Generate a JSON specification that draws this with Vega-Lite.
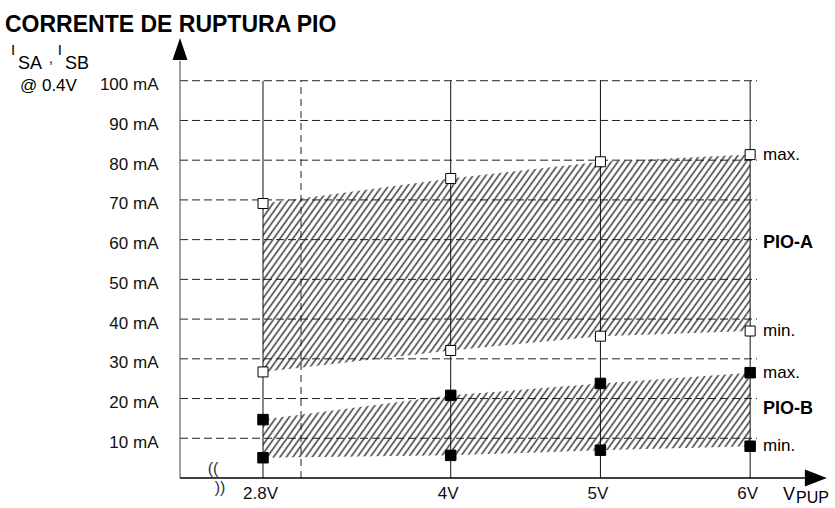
{
"$schema":"https://vega.github.io/schema/vega-lite/v6.json",
"width":645,"height":437,"autosize":"none",
"padding":{"left":180,"top":41,"right":10,"bottom":30},
"background":"white",
"config":{"view":{"stroke":null},"font":"Liberation Sans","text":{"font":"Liberation Sans","color":"#000"},
"axis":{"domain":false,"ticks":false,"grid":false,"labelFont":"Liberation Sans","labelColor":"#111","labelFontSize":17}},
"data":{"values":[{}]},
"datasets":{
"pio":[
{"V":2.8,"Amax":69.1,"Amin":26.7,"Bmax":14.7,"Bmin":5.1},
{"V":4,"Amax":75.4,"Amin":32.1,"Bmax":20.8,"Bmin":5.7},
{"V":5,"Amax":79.6,"Amin":35.7,"Bmax":23.8,"Bmin":7.0},
{"V":6,"Amax":81.4,"Amin":37.0,"Bmax":26.5,"Bmin":8.0}],
"grid":[{"mA":10},{"mA":20},{"mA":30},{"mA":40},{"mA":50},{"mA":60},{"mA":70},{"mA":80},{"mA":90},{"mA":100}],
"solidV":[{"V":2.8},{"V":4},{"V":5},{"V":6}],
"dashedV":[{"V":3}]
},
"layer":[
{"data":{"name":"pio"},
"mark":{"type":"area","fill":{"gradient":"linear","x1":0,"y1":0,"x2":1.1972,"y2":0.3821,"stops":[
{"offset":0.000,"color":"#444"},{"offset":0.003,"color":"#fff"},{"offset":0.007,"color":"#fff"},
{"offset":0.010,"color":"#444"},{"offset":0.013,"color":"#fff"},{"offset":0.017,"color":"#fff"},
{"offset":0.020,"color":"#444"},{"offset":0.023,"color":"#fff"},{"offset":0.027,"color":"#fff"},
{"offset":0.030,"color":"#444"},{"offset":0.033,"color":"#fff"},{"offset":0.037,"color":"#fff"},
{"offset":0.040,"color":"#444"},{"offset":0.043,"color":"#fff"},{"offset":0.047,"color":"#fff"},
{"offset":0.050,"color":"#444"},{"offset":0.053,"color":"#fff"},{"offset":0.057,"color":"#fff"},
{"offset":0.060,"color":"#444"},{"offset":0.063,"color":"#fff"},{"offset":0.067,"color":"#fff"},
{"offset":0.070,"color":"#444"},{"offset":0.073,"color":"#fff"},{"offset":0.077,"color":"#fff"},
{"offset":0.080,"color":"#444"},{"offset":0.083,"color":"#fff"},{"offset":0.087,"color":"#fff"},
{"offset":0.090,"color":"#444"},{"offset":0.093,"color":"#fff"},{"offset":0.097,"color":"#fff"},
{"offset":0.100,"color":"#444"},{"offset":0.103,"color":"#fff"},{"offset":0.107,"color":"#fff"},
{"offset":0.110,"color":"#444"},{"offset":0.113,"color":"#fff"},{"offset":0.117,"color":"#fff"},
{"offset":0.120,"color":"#444"},{"offset":0.123,"color":"#fff"},{"offset":0.127,"color":"#fff"},
{"offset":0.130,"color":"#444"},{"offset":0.133,"color":"#fff"},{"offset":0.137,"color":"#fff"},
{"offset":0.140,"color":"#444"},{"offset":0.143,"color":"#fff"},{"offset":0.147,"color":"#fff"},
{"offset":0.150,"color":"#444"},{"offset":0.153,"color":"#fff"},{"offset":0.157,"color":"#fff"},
{"offset":0.160,"color":"#444"},{"offset":0.163,"color":"#fff"},{"offset":0.167,"color":"#fff"},
{"offset":0.170,"color":"#444"},{"offset":0.173,"color":"#fff"},{"offset":0.177,"color":"#fff"},
{"offset":0.180,"color":"#444"},{"offset":0.183,"color":"#fff"},{"offset":0.187,"color":"#fff"},
{"offset":0.190,"color":"#444"},{"offset":0.193,"color":"#fff"},{"offset":0.197,"color":"#fff"},
{"offset":0.200,"color":"#444"},{"offset":0.203,"color":"#fff"},{"offset":0.207,"color":"#fff"},
{"offset":0.210,"color":"#444"},{"offset":0.213,"color":"#fff"},{"offset":0.217,"color":"#fff"},
{"offset":0.220,"color":"#444"},{"offset":0.223,"color":"#fff"},{"offset":0.227,"color":"#fff"},
{"offset":0.230,"color":"#444"},{"offset":0.233,"color":"#fff"},{"offset":0.237,"color":"#fff"},
{"offset":0.240,"color":"#444"},{"offset":0.243,"color":"#fff"},{"offset":0.247,"color":"#fff"},
{"offset":0.250,"color":"#444"},{"offset":0.253,"color":"#fff"},{"offset":0.257,"color":"#fff"},
{"offset":0.260,"color":"#444"},{"offset":0.263,"color":"#fff"},{"offset":0.267,"color":"#fff"},
{"offset":0.270,"color":"#444"},{"offset":0.273,"color":"#fff"},{"offset":0.277,"color":"#fff"},
{"offset":0.280,"color":"#444"},{"offset":0.283,"color":"#fff"},{"offset":0.287,"color":"#fff"},
{"offset":0.290,"color":"#444"},{"offset":0.293,"color":"#fff"},{"offset":0.297,"color":"#fff"},
{"offset":0.300,"color":"#444"},{"offset":0.303,"color":"#fff"},{"offset":0.307,"color":"#fff"},
{"offset":0.310,"color":"#444"},{"offset":0.313,"color":"#fff"},{"offset":0.317,"color":"#fff"},
{"offset":0.320,"color":"#444"},{"offset":0.323,"color":"#fff"},{"offset":0.327,"color":"#fff"},
{"offset":0.330,"color":"#444"},{"offset":0.333,"color":"#fff"},{"offset":0.337,"color":"#fff"},
{"offset":0.340,"color":"#444"},{"offset":0.343,"color":"#fff"},{"offset":0.347,"color":"#fff"},
{"offset":0.350,"color":"#444"},{"offset":0.353,"color":"#fff"},{"offset":0.357,"color":"#fff"},
{"offset":0.360,"color":"#444"},{"offset":0.363,"color":"#fff"},{"offset":0.367,"color":"#fff"},
{"offset":0.370,"color":"#444"},{"offset":0.373,"color":"#fff"},{"offset":0.377,"color":"#fff"},
{"offset":0.380,"color":"#444"},{"offset":0.383,"color":"#fff"},{"offset":0.387,"color":"#fff"},
{"offset":0.390,"color":"#444"},{"offset":0.393,"color":"#fff"},{"offset":0.397,"color":"#fff"},
{"offset":0.400,"color":"#444"},{"offset":0.403,"color":"#fff"},{"offset":0.407,"color":"#fff"},
{"offset":0.410,"color":"#444"},{"offset":0.413,"color":"#fff"},{"offset":0.417,"color":"#fff"},
{"offset":0.420,"color":"#444"},{"offset":0.423,"color":"#fff"},{"offset":0.427,"color":"#fff"},
{"offset":0.430,"color":"#444"},{"offset":0.433,"color":"#fff"},{"offset":0.437,"color":"#fff"},
{"offset":0.440,"color":"#444"},{"offset":0.443,"color":"#fff"},{"offset":0.447,"color":"#fff"},
{"offset":0.450,"color":"#444"},{"offset":0.453,"color":"#fff"},{"offset":0.457,"color":"#fff"},
{"offset":0.460,"color":"#444"},{"offset":0.463,"color":"#fff"},{"offset":0.467,"color":"#fff"},
{"offset":0.470,"color":"#444"},{"offset":0.473,"color":"#fff"},{"offset":0.477,"color":"#fff"},
{"offset":0.480,"color":"#444"},{"offset":0.483,"color":"#fff"},{"offset":0.487,"color":"#fff"},
{"offset":0.490,"color":"#444"},{"offset":0.493,"color":"#fff"},{"offset":0.497,"color":"#fff"},
{"offset":0.500,"color":"#444"},{"offset":0.503,"color":"#fff"},{"offset":0.507,"color":"#fff"},
{"offset":0.510,"color":"#444"},{"offset":0.513,"color":"#fff"},{"offset":0.517,"color":"#fff"},
{"offset":0.520,"color":"#444"},{"offset":0.523,"color":"#fff"},{"offset":0.527,"color":"#fff"},
{"offset":0.530,"color":"#444"},{"offset":0.533,"color":"#fff"},{"offset":0.537,"color":"#fff"},
{"offset":0.540,"color":"#444"},{"offset":0.543,"color":"#fff"},{"offset":0.547,"color":"#fff"},
{"offset":0.550,"color":"#444"},{"offset":0.553,"color":"#fff"},{"offset":0.557,"color":"#fff"},
{"offset":0.560,"color":"#444"},{"offset":0.563,"color":"#fff"},{"offset":0.567,"color":"#fff"},
{"offset":0.570,"color":"#444"},{"offset":0.573,"color":"#fff"},{"offset":0.577,"color":"#fff"},
{"offset":0.580,"color":"#444"},{"offset":0.583,"color":"#fff"},{"offset":0.587,"color":"#fff"},
{"offset":0.590,"color":"#444"},{"offset":0.593,"color":"#fff"},{"offset":0.597,"color":"#fff"},
{"offset":0.600,"color":"#444"},{"offset":0.603,"color":"#fff"},{"offset":0.607,"color":"#fff"},
{"offset":0.610,"color":"#444"},{"offset":0.613,"color":"#fff"},{"offset":0.617,"color":"#fff"},
{"offset":0.620,"color":"#444"},{"offset":0.623,"color":"#fff"},{"offset":0.627,"color":"#fff"},
{"offset":0.630,"color":"#444"},{"offset":0.633,"color":"#fff"},{"offset":0.637,"color":"#fff"},
{"offset":0.640,"color":"#444"},{"offset":0.643,"color":"#fff"},{"offset":0.647,"color":"#fff"},
{"offset":0.650,"color":"#444"},{"offset":0.653,"color":"#fff"},{"offset":0.657,"color":"#fff"},
{"offset":0.660,"color":"#444"},{"offset":0.663,"color":"#fff"},{"offset":0.667,"color":"#fff"},
{"offset":0.670,"color":"#444"},{"offset":0.673,"color":"#fff"},{"offset":0.677,"color":"#fff"},
{"offset":0.680,"color":"#444"},{"offset":0.683,"color":"#fff"},{"offset":0.687,"color":"#fff"},
{"offset":0.690,"color":"#444"},{"offset":0.693,"color":"#fff"},{"offset":0.697,"color":"#fff"},
{"offset":0.700,"color":"#444"},{"offset":0.703,"color":"#fff"},{"offset":0.707,"color":"#fff"},
{"offset":0.710,"color":"#444"},{"offset":0.713,"color":"#fff"},{"offset":0.717,"color":"#fff"},
{"offset":0.720,"color":"#444"},{"offset":0.723,"color":"#fff"},{"offset":0.727,"color":"#fff"},
{"offset":0.730,"color":"#444"},{"offset":0.733,"color":"#fff"},{"offset":0.737,"color":"#fff"},
{"offset":0.740,"color":"#444"},{"offset":0.743,"color":"#fff"},{"offset":0.747,"color":"#fff"},
{"offset":0.750,"color":"#444"},{"offset":0.753,"color":"#fff"},{"offset":0.757,"color":"#fff"},
{"offset":0.760,"color":"#444"},{"offset":0.763,"color":"#fff"},{"offset":0.767,"color":"#fff"},
{"offset":0.770,"color":"#444"},{"offset":0.773,"color":"#fff"},{"offset":0.777,"color":"#fff"},
{"offset":0.780,"color":"#444"},{"offset":0.783,"color":"#fff"},{"offset":0.787,"color":"#fff"},
{"offset":0.790,"color":"#444"},{"offset":0.793,"color":"#fff"},{"offset":0.797,"color":"#fff"},
{"offset":0.800,"color":"#444"},{"offset":0.803,"color":"#fff"},{"offset":0.807,"color":"#fff"},
{"offset":0.810,"color":"#444"},{"offset":0.813,"color":"#fff"},{"offset":0.817,"color":"#fff"},
{"offset":0.820,"color":"#444"},{"offset":0.823,"color":"#fff"},{"offset":0.827,"color":"#fff"},
{"offset":0.830,"color":"#444"},{"offset":0.833,"color":"#fff"},{"offset":0.837,"color":"#fff"},
{"offset":0.840,"color":"#444"},{"offset":0.843,"color":"#fff"},{"offset":0.847,"color":"#fff"},
{"offset":0.850,"color":"#444"},{"offset":0.853,"color":"#fff"},{"offset":0.857,"color":"#fff"},
{"offset":0.860,"color":"#444"},{"offset":0.863,"color":"#fff"},{"offset":0.867,"color":"#fff"},
{"offset":0.870,"color":"#444"},{"offset":0.873,"color":"#fff"},{"offset":0.877,"color":"#fff"},
{"offset":0.880,"color":"#444"},{"offset":0.883,"color":"#fff"},{"offset":0.887,"color":"#fff"},
{"offset":0.890,"color":"#444"},{"offset":0.893,"color":"#fff"},{"offset":0.897,"color":"#fff"},
{"offset":0.900,"color":"#444"},{"offset":0.903,"color":"#fff"},{"offset":0.907,"color":"#fff"},
{"offset":0.910,"color":"#444"},{"offset":0.913,"color":"#fff"},{"offset":0.917,"color":"#fff"},
{"offset":0.920,"color":"#444"},{"offset":0.923,"color":"#fff"},{"offset":0.927,"color":"#fff"},
{"offset":0.930,"color":"#444"},{"offset":0.933,"color":"#fff"},{"offset":0.937,"color":"#fff"},
{"offset":0.940,"color":"#444"},{"offset":0.943,"color":"#fff"},{"offset":0.947,"color":"#fff"},
{"offset":0.950,"color":"#444"},{"offset":0.953,"color":"#fff"},{"offset":0.957,"color":"#fff"},
{"offset":0.960,"color":"#444"},{"offset":0.963,"color":"#fff"},{"offset":0.967,"color":"#fff"},
{"offset":0.970,"color":"#444"},{"offset":0.973,"color":"#fff"},{"offset":0.977,"color":"#fff"},
{"offset":0.980,"color":"#444"},{"offset":0.983,"color":"#fff"},{"offset":0.987,"color":"#fff"},
{"offset":0.990,"color":"#444"},{"offset":0.993,"color":"#fff"},{"offset":0.997,"color":"#fff"},
{"offset":1,"color":"#444"}]}},
"encoding":{
"x":{"field":"V","type":"quantitative","title":null,"scale":{"domain":[2.2,2.8,3,6.5],"range":[0,83,121,645],"nice":false,"zero":false},
"axis":{"values":[2.8,4,5,6],"labelExpr":"datum.value + 'V'","title":null,"labelPadding":7,"labelFlush":false,"labelOverlap":false,"labelOffset":-3}},
"y":{"field":"Amax","type":"quantitative","title":null,"scale":{"domain":[0,110],"nice":false,"zero":false},
"axis":{"values":[10,20,30,40,50,60,70,80,90,100],"labelExpr":"datum.value + ' mA'","title":null,"labelPadding":22,"labelOffset":4}},
"y2":{"field":"Amin"}}},
{"data":{"name":"pio"},
"mark":{"type":"area","fill":{"gradient":"linear","x1":0,"y1":0,"x2":1.3014,"y2":0.1622,"stops":[
{"offset":0.000,"color":"#444"},{"offset":0.003,"color":"#fff"},{"offset":0.007,"color":"#fff"},
{"offset":0.010,"color":"#444"},{"offset":0.013,"color":"#fff"},{"offset":0.017,"color":"#fff"},
{"offset":0.020,"color":"#444"},{"offset":0.023,"color":"#fff"},{"offset":0.027,"color":"#fff"},
{"offset":0.030,"color":"#444"},{"offset":0.033,"color":"#fff"},{"offset":0.037,"color":"#fff"},
{"offset":0.040,"color":"#444"},{"offset":0.043,"color":"#fff"},{"offset":0.047,"color":"#fff"},
{"offset":0.050,"color":"#444"},{"offset":0.053,"color":"#fff"},{"offset":0.057,"color":"#fff"},
{"offset":0.060,"color":"#444"},{"offset":0.063,"color":"#fff"},{"offset":0.067,"color":"#fff"},
{"offset":0.070,"color":"#444"},{"offset":0.073,"color":"#fff"},{"offset":0.077,"color":"#fff"},
{"offset":0.080,"color":"#444"},{"offset":0.083,"color":"#fff"},{"offset":0.087,"color":"#fff"},
{"offset":0.090,"color":"#444"},{"offset":0.093,"color":"#fff"},{"offset":0.097,"color":"#fff"},
{"offset":0.100,"color":"#444"},{"offset":0.103,"color":"#fff"},{"offset":0.107,"color":"#fff"},
{"offset":0.110,"color":"#444"},{"offset":0.113,"color":"#fff"},{"offset":0.117,"color":"#fff"},
{"offset":0.120,"color":"#444"},{"offset":0.123,"color":"#fff"},{"offset":0.127,"color":"#fff"},
{"offset":0.130,"color":"#444"},{"offset":0.133,"color":"#fff"},{"offset":0.137,"color":"#fff"},
{"offset":0.140,"color":"#444"},{"offset":0.143,"color":"#fff"},{"offset":0.147,"color":"#fff"},
{"offset":0.150,"color":"#444"},{"offset":0.153,"color":"#fff"},{"offset":0.157,"color":"#fff"},
{"offset":0.160,"color":"#444"},{"offset":0.163,"color":"#fff"},{"offset":0.167,"color":"#fff"},
{"offset":0.170,"color":"#444"},{"offset":0.173,"color":"#fff"},{"offset":0.177,"color":"#fff"},
{"offset":0.180,"color":"#444"},{"offset":0.183,"color":"#fff"},{"offset":0.187,"color":"#fff"},
{"offset":0.190,"color":"#444"},{"offset":0.193,"color":"#fff"},{"offset":0.197,"color":"#fff"},
{"offset":0.200,"color":"#444"},{"offset":0.203,"color":"#fff"},{"offset":0.207,"color":"#fff"},
{"offset":0.210,"color":"#444"},{"offset":0.213,"color":"#fff"},{"offset":0.217,"color":"#fff"},
{"offset":0.220,"color":"#444"},{"offset":0.223,"color":"#fff"},{"offset":0.227,"color":"#fff"},
{"offset":0.230,"color":"#444"},{"offset":0.233,"color":"#fff"},{"offset":0.237,"color":"#fff"},
{"offset":0.240,"color":"#444"},{"offset":0.243,"color":"#fff"},{"offset":0.247,"color":"#fff"},
{"offset":0.250,"color":"#444"},{"offset":0.253,"color":"#fff"},{"offset":0.257,"color":"#fff"},
{"offset":0.260,"color":"#444"},{"offset":0.263,"color":"#fff"},{"offset":0.267,"color":"#fff"},
{"offset":0.270,"color":"#444"},{"offset":0.273,"color":"#fff"},{"offset":0.277,"color":"#fff"},
{"offset":0.280,"color":"#444"},{"offset":0.283,"color":"#fff"},{"offset":0.287,"color":"#fff"},
{"offset":0.290,"color":"#444"},{"offset":0.293,"color":"#fff"},{"offset":0.297,"color":"#fff"},
{"offset":0.300,"color":"#444"},{"offset":0.303,"color":"#fff"},{"offset":0.307,"color":"#fff"},
{"offset":0.310,"color":"#444"},{"offset":0.313,"color":"#fff"},{"offset":0.317,"color":"#fff"},
{"offset":0.320,"color":"#444"},{"offset":0.323,"color":"#fff"},{"offset":0.327,"color":"#fff"},
{"offset":0.330,"color":"#444"},{"offset":0.333,"color":"#fff"},{"offset":0.337,"color":"#fff"},
{"offset":0.340,"color":"#444"},{"offset":0.343,"color":"#fff"},{"offset":0.347,"color":"#fff"},
{"offset":0.350,"color":"#444"},{"offset":0.353,"color":"#fff"},{"offset":0.357,"color":"#fff"},
{"offset":0.360,"color":"#444"},{"offset":0.363,"color":"#fff"},{"offset":0.367,"color":"#fff"},
{"offset":0.370,"color":"#444"},{"offset":0.373,"color":"#fff"},{"offset":0.377,"color":"#fff"},
{"offset":0.380,"color":"#444"},{"offset":0.383,"color":"#fff"},{"offset":0.387,"color":"#fff"},
{"offset":0.390,"color":"#444"},{"offset":0.393,"color":"#fff"},{"offset":0.397,"color":"#fff"},
{"offset":0.400,"color":"#444"},{"offset":0.403,"color":"#fff"},{"offset":0.407,"color":"#fff"},
{"offset":0.410,"color":"#444"},{"offset":0.413,"color":"#fff"},{"offset":0.417,"color":"#fff"},
{"offset":0.420,"color":"#444"},{"offset":0.423,"color":"#fff"},{"offset":0.427,"color":"#fff"},
{"offset":0.430,"color":"#444"},{"offset":0.433,"color":"#fff"},{"offset":0.437,"color":"#fff"},
{"offset":0.440,"color":"#444"},{"offset":0.443,"color":"#fff"},{"offset":0.447,"color":"#fff"},
{"offset":0.450,"color":"#444"},{"offset":0.453,"color":"#fff"},{"offset":0.457,"color":"#fff"},
{"offset":0.460,"color":"#444"},{"offset":0.463,"color":"#fff"},{"offset":0.467,"color":"#fff"},
{"offset":0.470,"color":"#444"},{"offset":0.473,"color":"#fff"},{"offset":0.477,"color":"#fff"},
{"offset":0.480,"color":"#444"},{"offset":0.483,"color":"#fff"},{"offset":0.487,"color":"#fff"},
{"offset":0.490,"color":"#444"},{"offset":0.493,"color":"#fff"},{"offset":0.497,"color":"#fff"},
{"offset":0.500,"color":"#444"},{"offset":0.503,"color":"#fff"},{"offset":0.507,"color":"#fff"},
{"offset":0.510,"color":"#444"},{"offset":0.513,"color":"#fff"},{"offset":0.517,"color":"#fff"},
{"offset":0.520,"color":"#444"},{"offset":0.523,"color":"#fff"},{"offset":0.527,"color":"#fff"},
{"offset":0.530,"color":"#444"},{"offset":0.533,"color":"#fff"},{"offset":0.537,"color":"#fff"},
{"offset":0.540,"color":"#444"},{"offset":0.543,"color":"#fff"},{"offset":0.547,"color":"#fff"},
{"offset":0.550,"color":"#444"},{"offset":0.553,"color":"#fff"},{"offset":0.557,"color":"#fff"},
{"offset":0.560,"color":"#444"},{"offset":0.563,"color":"#fff"},{"offset":0.567,"color":"#fff"},
{"offset":0.570,"color":"#444"},{"offset":0.573,"color":"#fff"},{"offset":0.577,"color":"#fff"},
{"offset":0.580,"color":"#444"},{"offset":0.583,"color":"#fff"},{"offset":0.587,"color":"#fff"},
{"offset":0.590,"color":"#444"},{"offset":0.593,"color":"#fff"},{"offset":0.597,"color":"#fff"},
{"offset":0.600,"color":"#444"},{"offset":0.603,"color":"#fff"},{"offset":0.607,"color":"#fff"},
{"offset":0.610,"color":"#444"},{"offset":0.613,"color":"#fff"},{"offset":0.617,"color":"#fff"},
{"offset":0.620,"color":"#444"},{"offset":0.623,"color":"#fff"},{"offset":0.627,"color":"#fff"},
{"offset":0.630,"color":"#444"},{"offset":0.633,"color":"#fff"},{"offset":0.637,"color":"#fff"},
{"offset":0.640,"color":"#444"},{"offset":0.643,"color":"#fff"},{"offset":0.647,"color":"#fff"},
{"offset":0.650,"color":"#444"},{"offset":0.653,"color":"#fff"},{"offset":0.657,"color":"#fff"},
{"offset":0.660,"color":"#444"},{"offset":0.663,"color":"#fff"},{"offset":0.667,"color":"#fff"},
{"offset":0.670,"color":"#444"},{"offset":0.673,"color":"#fff"},{"offset":0.677,"color":"#fff"},
{"offset":0.680,"color":"#444"},{"offset":0.683,"color":"#fff"},{"offset":0.687,"color":"#fff"},
{"offset":0.690,"color":"#444"},{"offset":0.693,"color":"#fff"},{"offset":0.697,"color":"#fff"},
{"offset":0.700,"color":"#444"},{"offset":0.703,"color":"#fff"},{"offset":0.707,"color":"#fff"},
{"offset":0.710,"color":"#444"},{"offset":0.713,"color":"#fff"},{"offset":0.717,"color":"#fff"},
{"offset":0.720,"color":"#444"},{"offset":0.723,"color":"#fff"},{"offset":0.727,"color":"#fff"},
{"offset":0.730,"color":"#444"},{"offset":0.733,"color":"#fff"},{"offset":0.737,"color":"#fff"},
{"offset":0.740,"color":"#444"},{"offset":0.743,"color":"#fff"},{"offset":0.747,"color":"#fff"},
{"offset":0.750,"color":"#444"},{"offset":0.753,"color":"#fff"},{"offset":0.757,"color":"#fff"},
{"offset":0.760,"color":"#444"},{"offset":0.763,"color":"#fff"},{"offset":0.767,"color":"#fff"},
{"offset":0.770,"color":"#444"},{"offset":0.773,"color":"#fff"},{"offset":0.777,"color":"#fff"},
{"offset":0.780,"color":"#444"},{"offset":0.783,"color":"#fff"},{"offset":0.787,"color":"#fff"},
{"offset":0.790,"color":"#444"},{"offset":0.793,"color":"#fff"},{"offset":0.797,"color":"#fff"},
{"offset":0.800,"color":"#444"},{"offset":0.803,"color":"#fff"},{"offset":0.807,"color":"#fff"},
{"offset":0.810,"color":"#444"},{"offset":0.813,"color":"#fff"},{"offset":0.817,"color":"#fff"},
{"offset":0.820,"color":"#444"},{"offset":0.823,"color":"#fff"},{"offset":0.827,"color":"#fff"},
{"offset":0.830,"color":"#444"},{"offset":0.833,"color":"#fff"},{"offset":0.837,"color":"#fff"},
{"offset":0.840,"color":"#444"},{"offset":0.843,"color":"#fff"},{"offset":0.847,"color":"#fff"},
{"offset":0.850,"color":"#444"},{"offset":0.853,"color":"#fff"},{"offset":0.857,"color":"#fff"},
{"offset":0.860,"color":"#444"},{"offset":0.863,"color":"#fff"},{"offset":0.867,"color":"#fff"},
{"offset":0.870,"color":"#444"},{"offset":0.873,"color":"#fff"},{"offset":0.877,"color":"#fff"},
{"offset":0.880,"color":"#444"},{"offset":0.883,"color":"#fff"},{"offset":0.887,"color":"#fff"},
{"offset":0.890,"color":"#444"},{"offset":0.893,"color":"#fff"},{"offset":0.897,"color":"#fff"},
{"offset":0.900,"color":"#444"},{"offset":0.903,"color":"#fff"},{"offset":0.907,"color":"#fff"},
{"offset":0.910,"color":"#444"},{"offset":0.913,"color":"#fff"},{"offset":0.917,"color":"#fff"},
{"offset":0.920,"color":"#444"},{"offset":0.923,"color":"#fff"},{"offset":0.927,"color":"#fff"},
{"offset":0.930,"color":"#444"},{"offset":0.933,"color":"#fff"},{"offset":0.937,"color":"#fff"},
{"offset":0.940,"color":"#444"},{"offset":0.943,"color":"#fff"},{"offset":0.947,"color":"#fff"},
{"offset":0.950,"color":"#444"},{"offset":0.953,"color":"#fff"},{"offset":0.957,"color":"#fff"},
{"offset":0.960,"color":"#444"},{"offset":0.963,"color":"#fff"},{"offset":0.967,"color":"#fff"},
{"offset":0.970,"color":"#444"},{"offset":0.973,"color":"#fff"},{"offset":0.977,"color":"#fff"},
{"offset":0.980,"color":"#444"},{"offset":0.983,"color":"#fff"},{"offset":0.987,"color":"#fff"},
{"offset":0.990,"color":"#444"},{"offset":0.993,"color":"#fff"},{"offset":0.997,"color":"#fff"},
{"offset":1,"color":"#444"}]}},
"encoding":{"x":{"field":"V","type":"quantitative","title":null},"y":{"field":"Bmax","type":"quantitative","title":null},"y2":{"field":"Bmin"}}},
{"data":{"name":"grid"},"mark":{"type":"rule","color":"#222","strokeWidth":1,"strokeDash":[8,4]},
"encoding":{"y":{"field":"mA","type":"quantitative","title":null},"x":{"datum":2.2,"type":"quantitative","title":null},"x2":{"datum":6.046}}},
{"data":{"name":"solidV"},"mark":{"type":"rule","color":"#111","strokeWidth":1},
"encoding":{"x":{"field":"V","type":"quantitative","title":null},"y":{"datum":0,"type":"quantitative","title":null},"y2":{"datum":100}}},
{"data":{"name":"dashedV"},"mark":{"type":"rule","color":"#222","strokeWidth":1,"strokeDash":[7,5]},
"encoding":{"x":{"field":"V","type":"quantitative","title":null},"y":{"datum":0,"type":"quantitative","title":null},"y2":{"datum":100}}},
{"mark":{"type":"rule","color":"#444","strokeWidth":1},
"encoding":{"x":{"datum":2.2,"type":"quantitative","title":null},"y":{"datum":0,"type":"quantitative","title":null},"y2":{"datum":105}}},
{"mark":{"type":"rule","color":"#000","strokeWidth":1.5},
"encoding":{"x":{"datum":2.2,"type":"quantitative","title":null},"x2":{"datum":6.366},"y":{"datum":0,"type":"quantitative","title":null}}},
{"mark":{"type":"point","shape":"M-0.68,1L0,-1L0.68,1Z","size":484,"filled":true,"color":"#000","opacity":1},
"encoding":{"x":{"datum":2.2,"type":"quantitative","title":null},"y":{"datum":108,"type":"quantitative","title":null}}},
{"mark":{"type":"point","shape":"M-1,-0.77L1,0L-1,0.77Z","size":484,"filled":true,"color":"#000","opacity":1},
"encoding":{"x":{"datum":6.439,"type":"quantitative","title":null},"y":{"datum":0,"type":"quantitative","title":null}}},
{"data":{"name":"pio"},"transform":[{"fold":["Amax","Amin"],"as":["k","mA"]}],
"mark":{"type":"point","shape":"square","size":100,"filled":true,"fill":"#fff","stroke":"#000","strokeWidth":1,"opacity":1},
"encoding":{"x":{"field":"V","type":"quantitative","title":null},"y":{"field":"mA","type":"quantitative","title":null}}},
{"data":{"name":"pio"},"transform":[{"fold":["Bmax","Bmin"],"as":["k","mA"]}],
"mark":{"type":"point","shape":"square","size":110,"filled":true,"fill":"#000","stroke":"#000","strokeWidth":1,"opacity":1},
"encoding":{"x":{"field":"V","type":"quantitative","title":null},"y":{"field":"mA","type":"quantitative","title":null}}},
{"mark":{"type":"text","text":"CORRENTE DE RUPTURA PIO","align":"left","baseline":"middle","fontSize":23,"fontWeight":"bold"},
"encoding":{"x":{"datum":0.935,"type":"quantitative","title":null},"y":{"datum":114.1,"type":"quantitative","title":null}}},
{"mark":{"type":"text","text":"I","align":"center","baseline":"middle","fontSize":15},
"encoding":{"x":{"datum":0.993,"type":"quantitative","title":null},"y":{"datum":107.7,"type":"quantitative","title":null}}},
{"mark":{"type":"text","text":"SA","align":"left","baseline":"middle","fontSize":18},
"encoding":{"x":{"datum":1.029,"type":"quantitative","title":null},"y":{"datum":104.2,"type":"quantitative","title":null}}},
{"mark":{"type":"text","text":",","align":"center","baseline":"alphabetic","fontSize":14},
"encoding":{"x":{"datum":1.267,"type":"quantitative","title":null},"y":{"datum":104.4,"type":"quantitative","title":null}}},
{"mark":{"type":"text","text":"I","align":"center","baseline":"middle","fontSize":15},
"encoding":{"x":{"datum":1.332,"type":"quantitative","title":null},"y":{"datum":107.7,"type":"quantitative","title":null}}},
{"mark":{"type":"text","text":"SB","align":"left","baseline":"middle","fontSize":18},
"encoding":{"x":{"datum":1.369,"type":"quantitative","title":null},"y":{"datum":104.2,"type":"quantitative","title":null}}},
{"mark":{"type":"text","text":"@ 0.4V","align":"left","baseline":"middle","fontSize":17},
"encoding":{"x":{"datum":1.043,"type":"quantitative","title":null},"y":{"datum":98.6,"type":"quantitative","title":null}}},
{"mark":{"type":"text","text":"max.","align":"left","baseline":"middle","fontSize":17},
"encoding":{"x":{"datum":6.086,"type":"quantitative","title":null},"y":{"datum":81.4,"type":"quantitative","title":null}}},
{"mark":{"type":"text","text":"min.","align":"left","baseline":"middle","fontSize":17},
"encoding":{"x":{"datum":6.086,"type":"quantitative","title":null},"y":{"datum":37.0,"type":"quantitative","title":null}}},
{"mark":{"type":"text","text":"PIO-A","align":"left","baseline":"middle","fontSize":18,"fontWeight":"bold"},
"encoding":{"x":{"datum":6.086,"type":"quantitative","title":null},"y":{"datum":59.1,"type":"quantitative","title":null}}},
{"mark":{"type":"text","text":"max.","align":"left","baseline":"middle","fontSize":17},
"encoding":{"x":{"datum":6.086,"type":"quantitative","title":null},"y":{"datum":26.5,"type":"quantitative","title":null}}},
{"mark":{"type":"text","text":"min.","align":"left","baseline":"middle","fontSize":17},
"encoding":{"x":{"datum":6.086,"type":"quantitative","title":null},"y":{"datum":8.0,"type":"quantitative","title":null}}},
{"mark":{"type":"text","text":"PIO-B","align":"left","baseline":"middle","fontSize":18,"fontWeight":"bold"},
"encoding":{"x":{"datum":6.086,"type":"quantitative","title":null},"y":{"datum":17.3,"type":"quantitative","title":null}}},
{"mark":{"type":"text","text":"V","align":"left","baseline":"middle","fontSize":18},
"encoding":{"x":{"datum":6.219,"type":"quantitative","title":null},"y":{"datum":-4.4,"type":"quantitative","title":null}}},
{"mark":{"type":"text","text":"PUP","align":"left","baseline":"middle","fontSize":16},
"encoding":{"x":{"datum":6.306,"type":"quantitative","title":null},"y":{"datum":-5.1,"type":"quantitative","title":null}}},
{"mark":{"type":"text","text":"((","align":"center","baseline":"middle","fontSize":16,"color":"#333"},
"encoding":{"x":{"datum":2.439,"type":"quantitative","title":null},"y":{"datum":2.2,"type":"quantitative","title":null}}},
{"mark":{"type":"text","text":"))","align":"center","baseline":"middle","fontSize":16,"color":"#333"},
"encoding":{"x":{"datum":2.489,"type":"quantitative","title":null},"y":{"datum":-2.6,"type":"quantitative","title":null}}}
]
}
